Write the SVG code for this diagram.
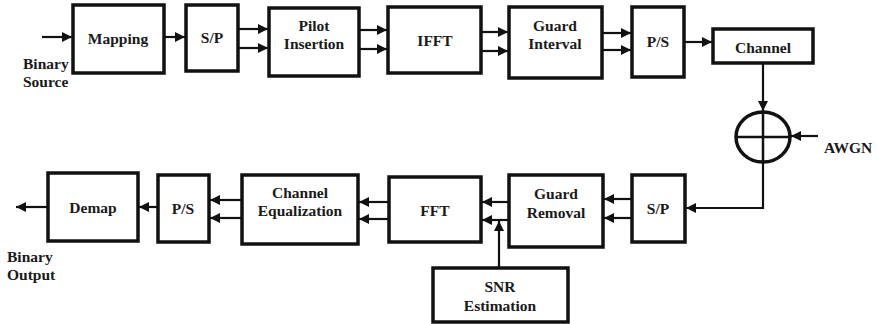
<svg xmlns="http://www.w3.org/2000/svg" width="878" height="324" viewBox="0 0 878 324">
  <style>
    .box { fill: #fff; stroke: #111; stroke-width: 3.5; }
    .wire { fill: none; stroke: #111; stroke-width: 2.2; }
    .arr { marker-end: url(#head); }
    .t text { font-family: "Liberation Serif", "Times New Roman", serif; font-weight: bold; font-size: 15.5px; fill: #1a1a1a; text-anchor: middle; dominant-baseline: central; }
    .t .lbl { text-anchor: start; }
  </style>
  <defs>
    <marker id="head" markerUnits="userSpaceOnUse" markerWidth="11" markerHeight="10" refX="10" refY="5" orient="auto">
      <path d="M0,0 L10,5 L0,10 Z" fill="#111"/>
    </marker>
  </defs>
  <rect width="878" height="324" fill="#fff"/>

  <!-- connectors -->
  <g id="connectors">
    <line class="wire arr" x1="42" y1="37" x2="72" y2="37"/>
    <line class="wire arr" x1="164" y1="37" x2="185" y2="37"/>
    <line class="wire arr" x1="238" y1="29" x2="268" y2="29"/>
    <line class="wire arr" x1="238" y1="48" x2="268" y2="48"/>
    <line class="wire arr" x1="359" y1="30" x2="387" y2="30"/>
    <line class="wire arr" x1="359" y1="49" x2="387" y2="49"/>
    <line class="wire arr" x1="481" y1="32" x2="508" y2="32"/>
    <line class="wire arr" x1="481" y1="51" x2="508" y2="51"/>
    <line class="wire arr" x1="602" y1="33" x2="631" y2="33"/>
    <line class="wire arr" x1="602" y1="50" x2="631" y2="50"/>
    <line class="wire arr" x1="684" y1="42" x2="712" y2="42"/>
    <line class="wire arr" x1="763" y1="63" x2="763" y2="111"/>
    <line class="wire arr" x1="818" y1="136" x2="791" y2="136"/>
    <polyline class="wire arr" points="763,162 763,208 686,208"/>
    <line class="wire arr" x1="632" y1="199" x2="604" y2="199"/>
    <line class="wire arr" x1="632" y1="218" x2="604" y2="218"/>
    <line class="wire arr" x1="509" y1="202" x2="482" y2="202"/>
    <line class="wire arr" x1="509" y1="220" x2="482" y2="220"/>
    <line class="wire arr" x1="499" y1="268" x2="499" y2="221"/>
    <line class="wire arr" x1="389" y1="202" x2="359" y2="202"/>
    <line class="wire arr" x1="389" y1="219" x2="359" y2="219"/>
    <line class="wire arr" x1="242" y1="200" x2="210" y2="200"/>
    <line class="wire arr" x1="242" y1="218" x2="210" y2="218"/>
    <line class="wire arr" x1="158" y1="207" x2="139" y2="207"/>
    <line class="wire arr" x1="48" y1="207" x2="16" y2="207"/>
  </g>

  <g class="t" font-family="Liberation Serif, serif">
  <!-- transmitter chain -->
  <g id="mapping"><rect class="box" x="73" y="5" width="91" height="68"/><text x="118" y="38">Mapping</text></g>
  <g id="sp-tx"><rect class="box" x="186" y="5" width="52" height="66"/><text x="212" y="37">S/P</text></g>
  <g id="pilot"><rect class="box" x="269" y="8" width="90" height="68"/><text x="314" y="25">Pilot</text><text x="314" y="43">Insertion</text></g>
  <g id="ifft"><rect class="box" x="388" y="7" width="93" height="66"/><text x="435" y="40">IFFT</text></g>
  <g id="guard-interval"><rect class="box" x="509" y="7" width="93" height="71"/><text x="555" y="25">Guard</text><text x="555" y="43">Interval</text></g>
  <g id="ps-tx"><rect class="box" x="632" y="7" width="52" height="70"/><text x="658" y="41">P/S</text></g>
  <g id="channel"><rect class="box" x="713" y="29" width="100" height="34"/><text x="763" y="47">Channel</text></g>

  <!-- noise adder -->
  <g id="adder">
    <ellipse cx="763" cy="137" rx="27" ry="25" fill="#fff" stroke="#111" stroke-width="3.5"/>
    <line x1="763" y1="112" x2="763" y2="162" stroke="#111" stroke-width="2.5"/>
    <line x1="736" y1="137" x2="790" y2="137" stroke="#111" stroke-width="2.5"/>
  </g>
  <g id="awgn"><text class="lbl" x="824" y="147">AWGN</text></g>

  <!-- receiver chain -->
  <g id="sp-rx"><rect class="box" x="632" y="175" width="53" height="67"/><text x="658" y="208">S/P</text></g>
  <g id="guard-removal"><rect class="box" x="509" y="175" width="94" height="72"/><text x="556" y="193">Guard</text><text x="556" y="212">Removal</text></g>
  <g id="fft"><rect class="box" x="389" y="177" width="92" height="65"/><text x="435" y="210">FFT</text></g>
  <g id="snr"><rect class="box" x="433" y="268" width="135" height="54"/><text x="500" y="286">SNR</text><text x="500" y="305">Estimation</text></g>
  <g id="equalizer"><rect class="box" x="242" y="175" width="116" height="69"/><text x="300" y="192">Channel</text><text x="300" y="210">Equalization</text></g>
  <g id="ps-rx"><rect class="box" x="158" y="175" width="51" height="67"/><text x="183" y="208">P/S</text></g>
  <g id="demap"><rect class="box" x="48" y="173" width="90" height="68"/><text x="93" y="207">Demap</text></g>

  <!-- end labels -->
  <g id="binary-source"><text class="lbl" x="23" y="63">Binary</text><text class="lbl" x="23" y="81">Source</text></g>
  <g id="binary-output"><text class="lbl" x="7" y="256">Binary</text><text class="lbl" x="7" y="274">Output</text></g>
  </g>
</svg>
